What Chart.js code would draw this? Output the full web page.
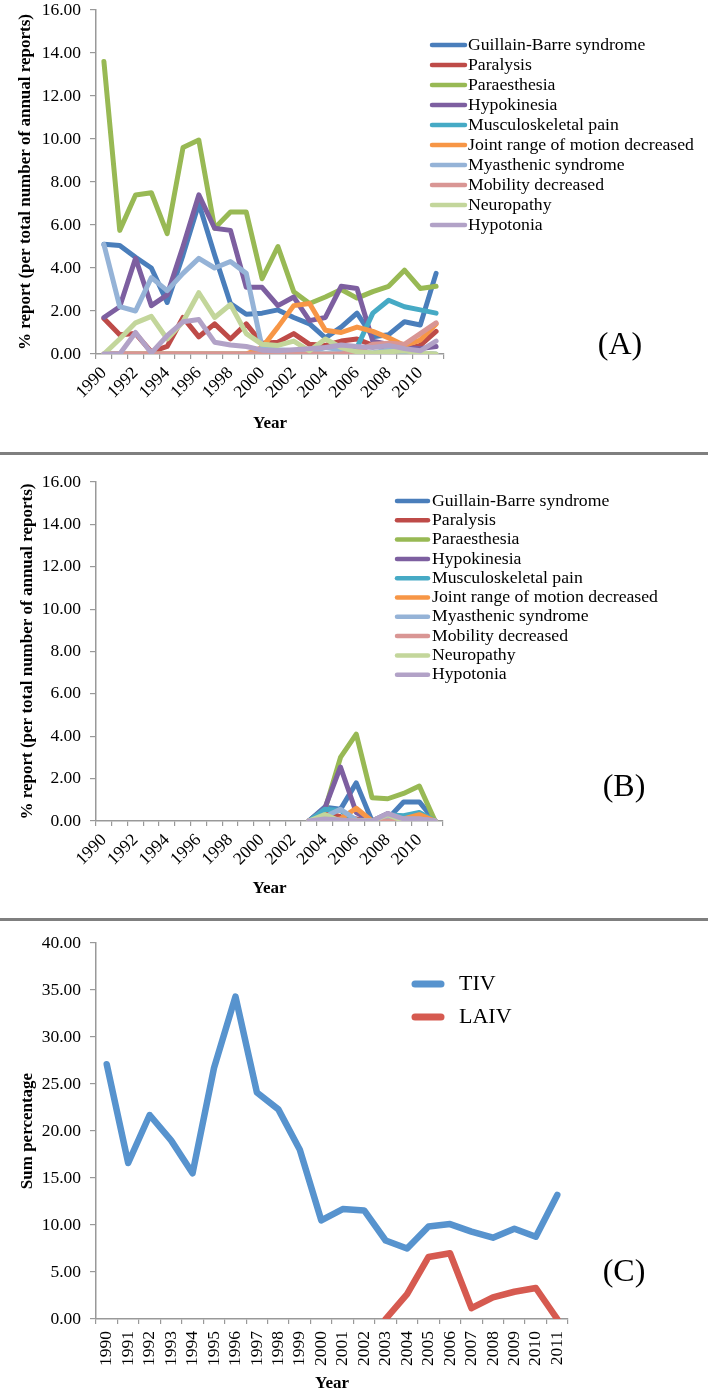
<!DOCTYPE html>
<html>
<head>
<meta charset="utf-8">
<title>Neurological adverse events by year</title>
<script src="https://cdn.jsdelivr.net/npm/chart.js@4.4.0/dist/chart.umd.min.js"></script>
<style>
  body { margin: 0; background: #fff; width: 708px; height: 1395px; position: relative; overflow: hidden; font-family: 'Liberation Serif', serif; }
  canvas { position: absolute; left: 0; }
  .sep { position: absolute; left: 0; width: 708px; height: 3px; background: #7f7f7f; }
  .tag { position: absolute; font-size: 32px; color: #000; transform: translate(-50%, -50%); }
</style>
</head>
<body>
<canvas id="chartA" width="708" height="452" style="top:0"></canvas>
<div class="sep" style="top:452px"></div>
<canvas id="chartB" width="708" height="460" style="top:455px"></canvas>
<div class="sep" style="top:918px"></div>
<canvas id="chartC" width="708" height="474" style="top:921px"></canvas>
<div class="tag" style="left:620px;top:343px">(A)</div>
<div class="tag" style="left:624px;top:785px">(B)</div>
<div class="tag" style="left:624px;top:1270px">(C)</div>

<script>
const years = ['1990','1991','1992','1993','1994','1995','1996','1997','1998','1999','2000',
               '2001','2002','2003','2004','2005','2006','2007','2008','2009','2010','2011'];

const seriesNames = ['Guillain-Barre syndrome', 'Paralysis', 'Paraesthesia', 'Hypokinesia',
                     'Musculoskeletal pain', 'Joint range of motion decreased', 'Myasthenic syndrome',
                     'Mobility decreased', 'Neuropathy', 'Hypotonia'];
const seriesColors = ['#4a7ebb', '#be4b48', '#98b954', '#7d5fa0', '#46aac5',
                      '#f79646', '#95b3d7', '#d99694', '#c3d69b', '#b2a2c7'];

// (A) % of annual reports, TIV
const guillainA     = [5.1, 5.05, 4.5, 4.0, 2.4, 4.6, 7.0, 4.6, 2.35, 1.85, 1.9, 2.05, 1.7, 1.4, 0.75, 1.25, 1.9, 0.8, 0.9, 1.5, 1.35, 3.75];
const paralysisA    = [1.65, 0.9, 0.95, 0.1, 0.35, 1.7, 0.8, 1.4, 0.7, 1.4, 0.5, 0.55, 0.95, 0.45, 0.4, 0.6, 0.7, 0.4, 0.3, 0.2, 0.4, 1.05];
const paraesthesiaA = [13.6, 5.75, 7.4, 7.5, 5.6, 9.6, 9.95, 5.85, 6.6, 6.6, 3.5, 5.0, 2.9, 2.35, 2.65, 3.0, 2.6, 2.9, 3.15, 3.9, 3.05, 3.15];
const hypokinesiaA  = [1.7, 2.2, 4.45, 2.25, 2.75, 5.0, 7.4, 5.85, 5.75, 3.1, 3.1, 2.25, 2.65, 1.55, 1.7, 3.15, 3.05, 0.6, 0.45, 0.3, 0.25, 0.35];
const musculoA      = [0, 0, 0, 0, 0, 0, 0, 0, 0, 0, 0, 0, 0, 0, 0, 0, 0.3, 1.9, 2.5, 2.2, 2.05, 1.9];
const jointA        = [0, 0, 0, 0, 0, 0, 0, 0, 0, 0, 0.3, 1.25, 2.25, 2.35, 1.1, 1.0, 1.25, 1.05, 0.75, 0.4, 0.65, 1.4];
const myasthenicA   = [5.1, 2.2, 2.0, 3.55, 2.95, 3.75, 4.45, 4.0, 4.3, 3.75, 0.3, 0.2, 0.15, 0.1, 0.3, 0.2, 0.1, 0.05, 0.2, 0.1, 0.05, 0];
const mobilityA     = [0, 0, 0, 0, 0, 0, 0, 0, 0, 0, 0, 0, 0, 0, 0, 0, 0.1, 0.45, 0.5, 0.45, 0.95, 1.45];
const neuropathyA   = [0, 0.7, 1.45, 1.75, 0.7, 1.5, 2.85, 1.7, 2.3, 0.95, 0.45, 0.4, 0.6, 0.15, 0.7, 0.3, 0.1, 0.05, 0.1, 0.15, 0.05, 0];
const hypotoniaA    = [0, 0, 1.0, 0.05, 0.85, 1.5, 1.6, 0.55, 0.42, 0.35, 0.18, 0.15, 0.2, 0.25, 0.3, 0.42, 0.35, 0.3, 0.4, 0.25, 0.15, 0.6];

// (B) % of annual reports, LAIV (no reports before 2003)
const guillainB     = [null, null, null, null, null, null, null, null, null, null, null, null, null, 0, 0.65, 0.55, 1.8, 0, 0.1, 0.9, 0.9, 0];
const paralysisB    = [null, null, null, null, null, null, null, null, null, null, null, null, null, 0, 0.4, 0.2, 0.1, 0, 0.1, 0.1, 0.1, 0];
const paraesthesiaB = [null, null, null, null, null, null, null, null, null, null, null, null, null, 0, 0.5, 3.0, 4.1, 1.1, 1.05, 1.3, 1.65, 0];
const hypokinesiaB  = [null, null, null, null, null, null, null, null, null, null, null, null, null, 0, 0.6, 2.55, 0.4, 0, 0.35, 0.1, 0.1, 0];
const musculoB      = [null, null, null, null, null, null, null, null, null, null, null, null, null, 0, 0.55, 0.5, 0, 0, 0.3, 0.25, 0.4, 0];
const jointB        = [null, null, null, null, null, null, null, null, null, null, null, null, null, 0, 0, 0.1, 0.6, 0, 0, 0.1, 0.3, 0];
const myasthenicB   = [null, null, null, null, null, null, null, null, null, null, null, null, null, 0, 0.2, 0.55, 0.05, 0, 0.2, 0.1, 0.1, 0];
const mobilityB     = [null, null, null, null, null, null, null, null, null, null, null, null, null, 0, 0, 0, 0, 0, 0, 0, 0.1, 0];
const neuropathyB   = [null, null, null, null, null, null, null, null, null, null, null, null, null, 0, 0.3, 0, 0, 0, 0.3, 0, 0, 0];
const hypotoniaB    = [null, null, null, null, null, null, null, null, null, null, null, null, null, 0, 0.1, 0.05, 0, 0, 0.35, 0.1, 0.1, 0];

// (C) summed percentage
const tivSum  = [27.1, 16.6, 21.7, 19.0, 15.5, 26.7, 34.3, 24.1, 22.3, 18.0, 10.5, 11.7, 11.55, 8.35, 7.5, 9.85, 10.1, 9.3, 8.65, 9.6, 8.75, 13.2];
const laivSum = [null, null, null, null, null, null, null, null, null, null, null, null, null, 0, 2.65, 6.6, 7.0, 1.15, 2.3, 2.9, 3.3, 0];

const seriesA = [guillainA, paralysisA, paraesthesiaA, hypokinesiaA, musculoA, jointA, myasthenicA, mobilityA, neuropathyA, hypotoniaA];
const seriesB = [guillainB, paralysisB, paraesthesiaB, hypokinesiaB, musculoB, jointB, myasthenicB, mobilityB, neuropathyB, hypotoniaB];

Chart.defaults.font.family = "'Liberation Serif', serif";
Chart.defaults.color = '#000';

// legend drawn inside the plot like the Excel original
const lineLegend = {
    id: 'lineLegend',
    afterDraw(chart, args, opts) {
        const ctx = chart.ctx;
        ctx.save();
        ctx.font = opts.font;
        ctx.textBaseline = 'middle';
        ctx.fillStyle = '#000';
        ctx.lineCap = 'round';
        chart.data.datasets.forEach((ds, i) => {
            const y = opts.top + i * opts.rowGap;
            ctx.strokeStyle = ds.borderColor;
            ctx.lineWidth = opts.lineWidth;
            ctx.beginPath();
            ctx.moveTo(opts.lineFrom, y);
            ctx.lineTo(opts.lineTo, y);
            ctx.stroke();
            ctx.fillText(ds.label, opts.textX, y);
        });
        ctx.restore();
    }
};

function makeDatasets(seriesList, names, colors, width) {
    return seriesList.map((data, i) => ({
        label: names[i],
        data: data,
        borderColor: colors[i],
        backgroundColor: colors[i],
        borderWidth: width,
        order: seriesList.length - i   // later series on top, as in Excel
    }));
}

function makeChart(id, cfg) {
    const tickFont = { size: 17.5 };
    return new Chart(document.getElementById(id), {
        type: 'line',
        data: { labels: years, datasets: cfg.datasets },
        options: {
            responsive: false,
            animation: false,
            events: [],
            layout: { autoPadding: false, padding: { top: cfg.top, right: cfg.right, left: 0, bottom: 0 } },
            elements: {
                point: { radius: 0 },
                line: { tension: 0, borderJoinStyle: 'round', borderCapStyle: 'round' }
            },
            spanGaps: false,
            plugins: {
                legend: { display: false },
                tooltip: { enabled: false },
                lineLegend: cfg.legend
            },
            scales: {
                x: {
                    type: 'category',
                    offset: true,
                    grid: { offset: true, drawOnChartArea: false, drawTicks: true, tickLength: 5, color: '#999', lineWidth: 1.2 },
                    border: { color: '#999', width: 1.5 },
                    ticks: {
                        autoSkip: false,
                        minRotation: cfg.rotation,
                        maxRotation: cfg.rotation,
                        padding: cfg.xPad,
                        font: tickFont,
                        callback: cfg.xLabel
                    },
                    title: { display: true, text: 'Year', font: { size: 17, weight: 'bold' }, padding: { top: 0, bottom: cfg.yearPad } },
                    afterFit: s => { s.height = cfg.xHeight; s.paddingLeft = 0; s.paddingRight = 0; }
                },
                y: {
                    min: 0,
                    max: cfg.yMax,
                    ticks: { stepSize: cfg.yStep, padding: 9, font: tickFont, callback: v => v.toFixed(2) },
                    grid: { drawOnChartArea: false, drawTicks: true, tickLength: 6, color: '#999', lineWidth: 1.2 },
                    border: { color: '#999', width: 1.5 },
                    title: { display: true, text: cfg.yTitle, font: { size: 17, weight: 'bold' }, padding: { top: cfg.yTitlePad, bottom: 0 } },
                    afterFit: s => { s.width = 96; s.paddingTop = 0; s.paddingBottom = 0; }
                }
            }
        },
        plugins: [lineLegend]
    });
}

const everyOther = function (val, idx) { return idx % 2 === 0 ? this.getLabelForValue(val) : ''; };
const everyYear = function (val) { return this.getLabelForValue(val); };

makeChart('chartA', {
    datasets: makeDatasets(seriesA, seriesNames, seriesColors, 5),
    top: 10, right: 264, xHeight: 98, yearPad: 18,
    rotation: 45, xPad: 4, xLabel: everyOther,
    yMax: 16, yStep: 2, yTitlePad: 15,
    yTitle: '% report (per total number of annual reports)',
    legend: { font: "17.7px 'Liberation Serif'", top: 45, rowGap: 20, lineFrom: 432, lineTo: 465, textX: 468, lineWidth: 4.5 }
});

makeChart('chartB', {
    datasets: makeDatasets(seriesB, seriesNames, seriesColors, 5),
    top: 27, right: 265, xHeight: 94, yearPad: 16,
    rotation: 45, xPad: 4, xLabel: everyOther,
    yMax: 16, yStep: 2, yTitlePad: 17,
    yTitle: '% report (per total number of annual reports)',
    legend: { font: "17.7px 'Liberation Serif'", top: 46, rowGap: 19.3, lineFrom: 397, lineTo: 428, textX: 432, lineWidth: 4.5 }
});

makeChart('chartC', {
    datasets: makeDatasets([tivSum, laivSum], ['TIV', 'LAIV'], ['#5793ce', '#d65a50'], 6.5),
    top: 22, right: 140, xHeight: 76, yearPad: 1.5,
    rotation: 90, xPad: 7, xLabel: everyYear,
    yMax: 40, yStep: 5, yTitlePad: 17,
    yTitle: 'Sum percentage',
    legend: { font: "22px 'Liberation Serif'", top: 63, rowGap: 33, lineFrom: 415, lineTo: 441, textX: 459, lineWidth: 7 }
});
</script>
</body>
</html>
